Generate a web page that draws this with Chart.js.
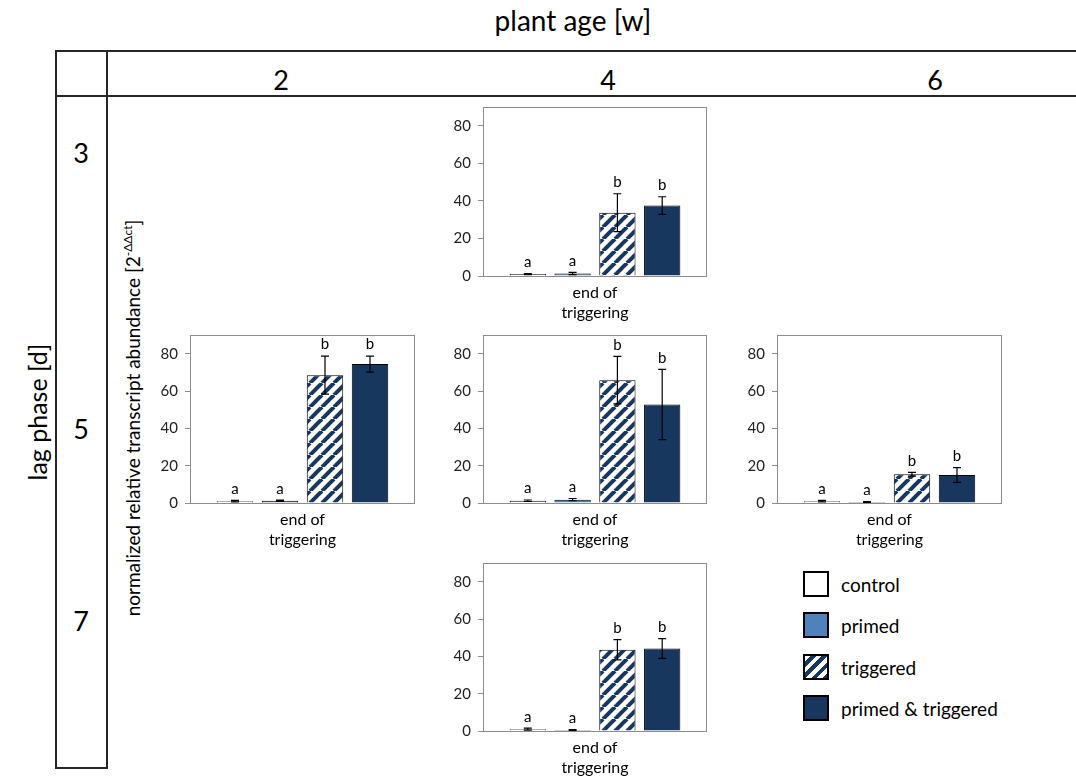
<!DOCTYPE html>
<html>
<head>
<meta charset="utf-8">
<script src="https://cdn.jsdelivr.net/npm/chart.js@4"></script>
<style>
    body { margin: 0; background: #fff; font-family: Lato, sans-serif; }
    #page { position: relative; width: 1076px; height: 776px; overflow: hidden; }
    .line { position: absolute; background: #262626; }
    .txt { position: absolute; color: #000; white-space: nowrap; transform: translate(-50%, -50%); }
    canvas { position: absolute; }
    .swatch { position: absolute; width: 26px; height: 26px; box-sizing: border-box; border: 2px solid #000; }
    .leg { position: absolute; font-size: 19px; transform: translateY(-50%); white-space: nowrap; }
</style>
</head>
<body>
<div id="page">

    <!-- table frame -->
    <div class="line" style="left:55px; top:50px; width:1021px; height:1.5px"></div>
    <div class="line" style="left:55px; top:95px; width:1021px; height:1.5px"></div>
    <div class="line" style="left:55px; top:50px; width:1.5px; height:719px"></div>
    <div class="line" style="left:106px; top:50px; width:1.5px; height:719px"></div>
    <div class="line" style="left:55px; top:767px; width:53px; height:1.5px"></div>

    <div class="txt" style="left:573px; top:20px; font-size:28px">plant age [w]</div>
    <div class="txt" style="left:37px; top:412px; font-size:25px; transform:translate(-50%,-50%) rotate(-90deg)">lag phase [d]</div>
    <div class="txt" style="left:132px; top:418px; font-size:19px; transform:translate(-50%,-50%) rotate(-90deg)">normalized relative transcript abundance [2<sup style="font-size:12px">-ΔΔct</sup>]</div>
</div>

<script>
// =====================================
// Data
// =====================================

const categories = [["end of", "triggering"]];

const treatments = ["control", "primed", "triggered", "primed & triggered"];

const yTicks = [0, 20, 40, 60, 80];

const plantAges = ["2", "4", "6"];

const lagPhases = ["3", "5", "7"];

// 4 w / 3 d
const w4d3Means = [1.0, 1.3, 33.7, 37.5];
const w4d3Errors = [0.3, 0.6, 10.1, 4.7];
const w4d3Letters = ["a", "a", "b", "b"];

// 2 w / 5 d
const w2d5Means = [1.0, 1.2, 68.5, 74.4];
const w2d5Errors = [0.4, 0.3, 10.2, 4.3];
const w2d5Letters = ["a", "a", "b", "b"];

// 4 w / 5 d
const w4d5Means = [1.2, 1.8, 65.8, 52.8];
const w4d5Errors = [0.4, 0.6, 12.7, 18.8];
const w4d5Letters = ["a", "a", "b", "b"];

// 6 w / 5 d
const w6d5Means = [1.0, 0.5, 15.4, 15.0];
const w6d5Errors = [0.4, 0.2, 1.0, 3.9];
const w6d5Letters = ["a", "a", "b", "b"];

// 4 w / 7 d
const w4d7Means = [1.0, 0.5, 43.5, 44.2];
const w4d7Errors = [0.5, 0.2, 5.4, 5.3];
const w4d7Letters = ["a", "a", "b", "b"];

// =====================================
// Layout
// =====================================

const panels = [
    { box: [483, 107, 224, 169], means: w4d3Means, errors: w4d3Errors, letters: w4d3Letters },
    { box: [190, 335, 225, 168], means: w2d5Means, errors: w2d5Errors, letters: w2d5Letters },
    { box: [483, 335, 224, 168], means: w4d5Means, errors: w4d5Errors, letters: w4d5Letters },
    { box: [777, 335, 225, 168], means: w6d5Means, errors: w6d5Errors, letters: w6d5Letters },
    { box: [483, 563, 224, 168], means: w4d7Means, errors: w4d7Errors, letters: w4d7Letters }
];

const colX = [281, 608, 935];
const rowY = [152, 428, 620];

const navy = "#17375e";
const blue = "#4f81bd";

const PAD_TOP = 24;

const page = document.getElementById("page");

// header texts
plantAges.forEach((t, i) => {
    const d = document.createElement("div");
    d.className = "txt";
    d.style.cssText = `left:${colX[i]}px; top:79px; font-size:27px`;
    d.textContent = t;
    page.appendChild(d);
});

lagPhases.forEach((t, i) => {
    const d = document.createElement("div");
    d.className = "txt";
    d.style.cssText = `left:81px; top:${rowY[i]}px; font-size:27px`;
    d.textContent = t;
    page.appendChild(d);
});

// =====================================
// Hatch pattern
// =====================================

function makeHatch() {
    const s = 12;
    const c = document.createElement("canvas");
    c.width = s;
    c.height = s;
    const g = c.getContext("2d");
    g.fillStyle = "#fff";
    g.fillRect(0, 0, s, s);
    g.strokeStyle = navy;
    g.lineWidth = 4;
    for (let k = -1; k <= 1; k++) {
        g.beginPath();
        g.moveTo(k * s, s);
        g.lineTo(k * s + s, 0);
        g.stroke();
    }
    return g.createPattern(c, "repeat");
}

const hatch = makeHatch();

const fills = ["#ffffff", blue, hatch, navy];

// =====================================
// Plugins
// =====================================

const frame = {
    id: "frame",
    beforeDatasetsDraw(chart) {
        const a = chart.chartArea;
        const ctx = chart.ctx;
        ctx.save();
        ctx.strokeStyle = "#8c8c8c";
        ctx.lineWidth = 1;
        ctx.strokeRect(Math.round(a.left) + 0.5, Math.round(a.top) + 0.5,
            Math.round(a.right - a.left) - 1, Math.round(a.bottom - a.top));
        ctx.restore();
    }
};

const errorBars = {
    id: "errorBars",
    afterDatasetsDraw(chart) {
        const ctx = chart.ctx;
        const y = chart.scales.y;
        ctx.save();
        ctx.strokeStyle = "#000";
        ctx.lineWidth = 1.2;
        ctx.fillStyle = "#000";
        ctx.font = "15px Lato";
        ctx.textAlign = "center";
        ctx.textBaseline = "bottom";
        chart.data.datasets.forEach((ds, i) => {
            const bar = chart.getDatasetMeta(i).data[0];
            const v = ds.data[0];
            const e = ds.errorBar;
            const top = y.getPixelForValue(v + e);
            const bot = y.getPixelForValue(Math.max(0, v - e));
            ctx.beginPath();
            ctx.moveTo(bar.x, top);
            ctx.lineTo(bar.x, bot);
            ctx.moveTo(bar.x - 4, top);
            ctx.lineTo(bar.x + 4, top);
            ctx.moveTo(bar.x - 4, bot);
            ctx.lineTo(bar.x + 4, bot);
            ctx.stroke();
            ctx.fillText(ds.letter, bar.x, Math.min(top, bar.y) - 4);
        });
        ctx.restore();
    }
};

// =====================================
// Charts
// =====================================

panels.forEach(p => {

    const [x, y, w, h] = p.box;

    const canvas = document.createElement("canvas");
    canvas.width = w + 51;
    canvas.height = h + PAD_TOP + 50;
    canvas.style.left = (x - 48) + "px";
    canvas.style.top = (y - PAD_TOP) + "px";
    page.appendChild(canvas);

    new Chart(canvas.getContext("2d"), {

        type: "bar",

        data: {
            labels: categories,
            datasets: treatments.map((t, i) => ({
                label: t,
                data: [p.means[i]],
                errorBar: p.errors[i],
                letter: p.letters[i],
                backgroundColor: fills[i],
                borderColor: "#000",
                borderWidth: 1,
                categoryPercentage: 0.8,
                barPercentage: 0.81
            }))
        },

        options: {
            responsive: false,
            animation: false,
            layout: { padding: { left: 3, top: PAD_TOP, right: 3, bottom: 0 } },
            plugins: {
                legend: { display: false },
                tooltip: { enabled: false }
            },
            scales: {
                x: {
                    offset: true,
                    grid: { display: false, drawTicks: false },
                    border: { display: false },
                    ticks: {
                        color: "#000",
                        font: { family: "Lato", size: 16, lineHeight: 1.3 },
                        padding: 6,
                        maxRotation: 0
                    },
                    afterFit: s => { s.height = 50; }
                },
                y: {
                    min: 0,
                    max: 90,
                    grid: { drawOnChartArea: false, tickLength: 5, color: "#8c8c8c" },
                    border: { display: false },
                    ticks: {
                        color: "#222",
                        font: { family: "Lato", size: 15 },
                        padding: 7
                    },
                    afterBuildTicks: s => { s.ticks = yTicks.map(v => ({ value: v })); },
                    afterFit: s => { s.width = 45; }
                }
            }
        },

        plugins: [frame, errorBars]
    });
});

// =====================================
// Legend
// =====================================

const legendTop = [571, 612, 654, 695];
const swatchCss = [
    "background:#fff",
    "background:" + blue,
    `background:repeating-linear-gradient(135deg, #fff 0 4px, ${navy} 4px 8px)`,
    "background:" + navy
];

treatments.forEach((t, i) => {
    const sw = document.createElement("div");
    sw.className = "swatch";
    sw.style.cssText = `left:803px; top:${legendTop[i]}px; ${swatchCss[i]}`;
    page.appendChild(sw);

    const lb = document.createElement("div");
    lb.className = "leg";
    lb.style.cssText = `left:841px; top:${legendTop[i] + 13}px`;
    lb.textContent = t;
    page.appendChild(lb);
});
</script>
</body>
</html>
